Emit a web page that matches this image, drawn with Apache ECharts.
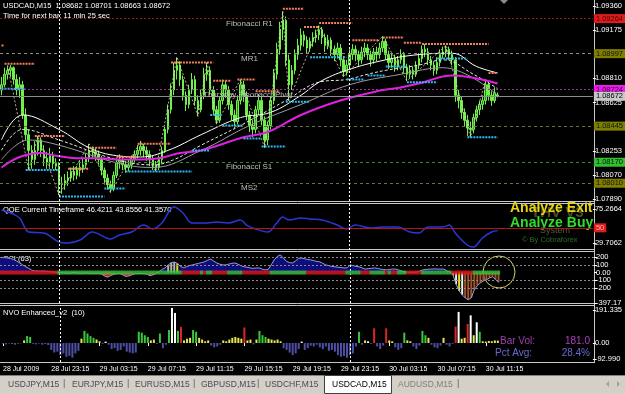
<!DOCTYPE html>
<html><head><meta charset="utf-8">
<script src="https://cdn.jsdelivr.net/npm/echarts@6/dist/echarts.min.js"></script>
<style>html,body{margin:0;padding:0;background:#000;}#c{width:625px;height:394px;}</style>
</head><body><div id="c"></div>
<script>
// ---------- DATA ----------
const symbolName = 'USDCAD,M15';
const timeTickLabels = ['28 Jul 2009','28 Jul 23:15','29 Jul 03:15','29 Jul 07:15','29 Jul 11:15','29 Jul 15:15','29 Jul 19:15','29 Jul 23:15','30 Jul 03:15','30 Jul 07:15','30 Jul 11:15'];
const barsPerTick = 16;
const totalSlots = 196;
const daySeparators = [19, 115];

// [open, close, low, high]
const candles = [
[1.0872,1.0876,1.0868,1.0882],[1.0876,1.0884,1.0874,1.0889],[1.0884,1.0887,1.0880,1.0890],[1.0887,1.0889,1.0882,1.0891],[1.0889,1.0880,1.0876,1.0890],
[1.0880,1.0872,1.0868,1.0884],[1.0872,1.0876,1.0866,1.0882],[1.0876,1.0853,1.0850,1.0879],[1.0853,1.0838,1.0834,1.0858],[1.0838,1.0826,1.0811,1.0842],
[1.0826,1.0819,1.0812,1.0830],[1.0819,1.0826,1.0815,1.0833],[1.0826,1.0834,1.0822,1.0837],[1.0834,1.0826,1.0821,1.0836],[1.0826,1.0820,1.0814,1.0830],
[1.0820,1.0817,1.0812,1.0825],[1.0817,1.0822,1.0813,1.0828],[1.0822,1.0816,1.0812,1.0825],[1.0816,1.0814,1.0811,1.0820],[1.0814,1.0800,1.0792,1.0817],
[1.0800,1.0801,1.0793,1.0806],[1.0801,1.0803,1.0796,1.0808],[1.0803,1.0805,1.0799,1.0810],[1.0805,1.0810,1.0802,1.0813],[1.0810,1.0807,1.0803,1.0814],
[1.0807,1.0811,1.0804,1.0814],[1.0811,1.0813,1.0806,1.0818],[1.0813,1.0815,1.0809,1.0820],[1.0815,1.0820,1.0812,1.0824],[1.0820,1.0826,1.0817,1.0831],
[1.0826,1.0825,1.0820,1.0829],[1.0825,1.0823,1.0818,1.0828],[1.0823,1.0819,1.0815,1.0826],[1.0819,1.0811,1.0807,1.0822],[1.0811,1.0805,1.0800,1.0813],
[1.0805,1.0800,1.0796,1.0808],[1.0800,1.0797,1.0794,1.0803],[1.0797,1.0807,1.0795,1.0810],[1.0807,1.0817,1.0805,1.0820],[1.0817,1.0819,1.0812,1.0823],
[1.0819,1.0815,1.0811,1.0822],[1.0815,1.0813,1.0809,1.0818],[1.0813,1.0815,1.0810,1.0819],[1.0815,1.0819,1.0812,1.0822],[1.0819,1.0823,1.0816,1.0826],
[1.0823,1.0826,1.0820,1.0830],[1.0826,1.0829,1.0822,1.0833],[1.0829,1.0826,1.0821,1.0831],[1.0826,1.0823,1.0818,1.0829],[1.0823,1.0819,1.0814,1.0826],
[1.0819,1.0815,1.0811,1.0822],[1.0815,1.0813,1.0810,1.0818],[1.0813,1.0819,1.0811,1.0822],[1.0819,1.0826,1.0816,1.0829],[1.0826,1.0842,1.0824,1.0845],
[1.0842,1.0857,1.0839,1.0861],[1.0857,1.0872,1.0854,1.0877],[1.0872,1.0887,1.0868,1.0893],[1.0887,1.0891,1.0880,1.0897],[1.0891,1.0880,1.0875,1.0894],
[1.0880,1.0868,1.0864,1.0883],[1.0868,1.0861,1.0856,1.0871],[1.0861,1.0872,1.0858,1.0876],[1.0872,1.0880,1.0869,1.0885],[1.0880,1.0864,1.0860,1.0883],
[1.0864,1.0857,1.0852,1.0868],[1.0857,1.0868,1.0855,1.0872],[1.0868,1.0884,1.0865,1.0889],[1.0884,1.0887,1.0879,1.0893],[1.0887,1.0872,1.0868,1.0890],
[1.0872,1.0857,1.0853,1.0875],[1.0857,1.0849,1.0846,1.0860],[1.0849,1.0864,1.0847,1.0867],[1.0864,1.0876,1.0861,1.0880],[1.0876,1.0872,1.0866,1.0879],
[1.0872,1.0861,1.0857,1.0875],[1.0861,1.0853,1.0849,1.0864],[1.0853,1.0848,1.0843,1.0857],[1.0848,1.0864,1.0846,1.0868],[1.0864,1.0876,1.0861,1.0880],
[1.0876,1.0868,1.0863,1.0879],[1.0868,1.0853,1.0849,1.0871],[1.0853,1.0845,1.0840,1.0856],[1.0845,1.0842,1.0836,1.0849],[1.0842,1.0857,1.0839,1.0860],
[1.0857,1.0864,1.0853,1.0869],[1.0864,1.0849,1.0845,1.0867],[1.0849,1.0834,1.0828,1.0852],[1.0834,1.0845,1.0830,1.0848],[1.0845,1.0864,1.0842,1.0867],
[1.0864,1.0884,1.0861,1.0888],[1.0884,1.0903,1.0880,1.0908],[1.0903,1.0918,1.0899,1.0924],[1.0918,1.0925,1.0910,1.0932],[1.0925,1.0895,1.0890,1.0928],
[1.0895,1.0876,1.0864,1.0899],[1.0876,1.0887,1.0872,1.0891],[1.0887,1.0899,1.0884,1.0903],[1.0899,1.0906,1.0895,1.0911],[1.0906,1.0914,1.0902,1.0919],
[1.0914,1.0910,1.0905,1.0917],[1.0910,1.0904,1.0900,1.0913],[1.0904,1.0909,1.0901,1.0912],[1.0909,1.0912,1.0905,1.0916],[1.0912,1.0914,1.0908,1.0918],
[1.0914,1.0918,1.0910,1.0921],[1.0918,1.0912,1.0907,1.0920],[1.0912,1.0906,1.0901,1.0915],[1.0906,1.0910,1.0903,1.0914],[1.0910,1.0903,1.0898,1.0912],
[1.0903,1.0899,1.0894,1.0906],[1.0899,1.0904,1.0896,1.0908],[1.0904,1.0895,1.0890,1.0907],[1.0895,1.0886,1.0882,1.0898],[1.0886,1.0891,1.0883,1.0895],
[1.0891,1.0899,1.0888,1.0903],[1.0899,1.0903,1.0895,1.0907],[1.0903,1.0899,1.0894,1.0906],[1.0899,1.0895,1.0890,1.0902],[1.0895,1.0901,1.0892,1.0905],
[1.0901,1.0904,1.0897,1.0908],[1.0904,1.0899,1.0895,1.0907],[1.0899,1.0895,1.0890,1.0902],[1.0895,1.0901,1.0892,1.0904],[1.0901,1.0899,1.0894,1.0905],
[1.0899,1.0904,1.0896,1.0908],[1.0904,1.0909,1.0901,1.0913],[1.0909,1.0899,1.0895,1.0911],[1.0899,1.0893,1.0888,1.0902],[1.0893,1.0896,1.0889,1.0900],
[1.0896,1.0891,1.0886,1.0899],[1.0891,1.0895,1.0887,1.0898],[1.0895,1.0899,1.0892,1.0903],[1.0899,1.0889,1.0885,1.0901],[1.0889,1.0884,1.0879,1.0892],
[1.0884,1.0887,1.0881,1.0891],[1.0887,1.0884,1.0880,1.0890],[1.0884,1.0891,1.0882,1.0894],[1.0891,1.0896,1.0888,1.0900],[1.0896,1.0903,1.0893,1.0906],
[1.0903,1.0901,1.0897,1.0907],[1.0901,1.0895,1.0891,1.0904],[1.0895,1.0891,1.0887,1.0898],[1.0891,1.0887,1.0883,1.0894],[1.0887,1.0893,1.0884,1.0897],
[1.0893,1.0899,1.0890,1.0903],[1.0899,1.0901,1.0896,1.0905],[1.0901,1.0903,1.0897,1.0906],[1.0903,1.0899,1.0895,1.0905],[1.0899,1.0895,1.0891,1.0902],
[1.0895,1.0868,1.0863,1.0897],[1.0868,1.0864,1.0858,1.0872],[1.0864,1.0855,1.0850,1.0867],[1.0855,1.0849,1.0844,1.0858],[1.0849,1.0843,1.0837,1.0853],
[1.0843,1.0842,1.0836,1.0848],[1.0842,1.0851,1.0839,1.0854],[1.0851,1.0857,1.0848,1.0860],[1.0857,1.0861,1.0853,1.0864],[1.0861,1.0864,1.0857,1.0868],
[1.0864,1.0876,1.0861,1.0880],[1.0876,1.0868,1.0864,1.0879],[1.0868,1.0864,1.0860,1.0871],[1.0864,1.0870,1.0862,1.0874],[1.08682,1.08672,1.08663,1.08701]
];

// moving averages: [barIndex, price]
const maFast = [[0,1.0834],[7,1.0853],[19,1.0842],[29,1.0828],[38,1.0822],[46,1.0821],[55,1.0826],[66,1.0838],[79,1.0851],[89,1.0855],[99,1.0868],[105,1.0878],[114,1.0887],[127,1.0895],[138,1.0899],[149,1.0900],[157,1.0890],[164,1.0885]];
const maMid = [[0,1.0826],[7,1.0842],[19,1.0834],[38,1.0819],[50,1.0815],[57,1.0819],[66,1.0830],[79,1.0845],[94,1.0864],[105,1.0878],[114,1.0880],[121,1.0884],[127,1.0887],[138,1.0891],[146,1.0895],[156,1.0884],[164,1.0873]];
const maSlow = [[0,1.0819],[9,1.0834],[19,1.0830],[39,1.0816],[50,1.0813],[66,1.0826],[82,1.0845],[99,1.0861],[115,1.0876],[132,1.0884],[146,1.0889],[164,1.0868]];
const maLong = [[0,1.0813],[6,1.0821],[13,1.0824],[18,1.0822],[26,1.0820],[33,1.0820],[39,1.0819],[46,1.0819],[52,1.0820],[59,1.0824],[66,1.0826],[80,1.0836],[88,1.0840],[99,1.0853],[112,1.0864],[124,1.0871],[132,1.0874],[138,1.0877],[149,1.0883],[164,1.0877]];
const zigzag = [[2,1.0891],[9,1.0811],[12,1.0837],[19,1.0792],[29,1.0831],[36,1.0794],[46,1.0833],[51,1.0810],[58,1.0897],[65,1.0852],[68,1.0893],[71,1.0846],[79,1.0880],[87,1.0828],[93,1.0932],[95,1.0864],[105,1.0921],[113,1.0882],[126,1.0913],[134,1.0879],[147,1.0906],[155,1.0836],[160,1.0880]];

// [fromBar, toBar, price]
const resistanceSegs = [[0,1,1.0906],[1,11,1.0892],[11,21,1.0837],[22,29,1.0812],[29,38,1.0828],[38,45,1.0821],[45,56,1.0831],[56,70,1.0893],[70,76,1.0879],[78,84,1.0880],[84,92,1.0871],[93,100,1.0934],[100,105,1.0920],[105,116,1.0923],[116,125,1.0910],[126,133,1.0912],[133,139,1.0908],[139,161,1.0907],[161,164,1.0885]];
const supportSegs = [[0,8,1.0873],[8,19,1.0811],[19,34,1.0791],[34,41,1.0797],[41,63,1.0810],[63,69,1.0826],[69,73,1.0853],[73,80,1.0845],[80,86,1.0835],[86,94,1.0829],[94,102,1.0863],[102,114,1.0897],[114,120,1.0880],[121,127,1.0883],[127,134,1.0890],[134,144,1.0878],[144,154,1.0896],[154,164,1.0836]];

const pivotPrices = [1.09264, 1.08997, 1.08724, 1.08672, 1.08445, 1.08170, 1.08010];
const pivotNames  = ['Fibonacci R1', 'MR1', 'Thursday Fibonacci Pivot', '', '', 'Fibonacci S1', 'MS2'];
const priceTicks = [1.0936, 1.09175, 1.0881, 1.08625, 1.08253, 1.0807, 1.0789];

// QQE
const qqeLine = [[0,73.9],[3,69.9],[6,63.2],[9,44.4],[14,43.1],[19,31.1],[22,29.7],[26,33.7],[30,44.4],[36,35.1],[39,40.4],[43,44.4],[47,53.8],[50,48.5],[53,56.5],[57,77.9],[60,69.9],[63,56.5],[68,56.5],[71,57.8],[75,56.5],[79,60.5],[81,53.8],[84,48.5],[88,44.4],[91,56.5],[93,64.5],[95,60.5],[99,63.2],[102,61.9],[106,60.5],[111,53.8],[114,48.5],[117,53.8],[122,49.8],[126,51.2],[131,51.2],[135,44.4],[138,43.1],[141,51.2],[146,51.2],[148,53.8],[150,43.1],[154,27.0],[156,24.3],[159,36.4],[162,44.4],[164,46.4]];
const qqeValues = ['46.4211','43.8556','41.3570'];
const qqeLevel = 50;
const qqeTicks = [75.2664, 29.7062];

// CCI(63)
const cci = [200,195,190,185,170,150,125,100,75,55,30,20,20,18,20,15,10,8,5,
2,-5,-8,-10,-5,0,-5,-10,-8,-5,-10,-12,-10,-8,
-20,-45,-60,-40,-25,-15,-10,-30,-50,-45,-30,-15,-12,-10,-15,-20,-40,-30,
-10,10,40,60,100,130,137,120,80,65,75,90,100,110,120,130,140,160,175,
150,125,110,100,100,110,120,125,110,90,75,70,60,55,60,60,45,35,40,100,165,
210,230,190,145,130,125,150,185,190,180,170,165,155,145,140,120,100,90,80,
75,70,65,60,60,100,90,80,75,60,45,50,55,60,55,45,40,35,40,45,45,35,20,8,
5,3,5,5,20,35,40,45,45,48,45,45,45,20,5,-35,
-150,-240,-290,-330,-355,-330,-225,-170,-135,-110,-95,-70,-55,-90,-125];
// n = blue fill, r = red fill, . = none, g/y/w/s = histogram colours
const cciKind = 'n'.repeat(19) + '.'.repeat(14) + 'rrrrr' + '..' + 'rrrr' + '.....' + 'rr' + '.' + 'nnn' + 'ggg' + 'y' + 'n'.repeat(90) + 'wwyw' + 's'.repeat(12);
// zero-line trend strip: [fromBar, toBar, state]
const cciStrip = [[0,18,'r'],[19,59,'g'],[60,65,'r'],[66,66,'g'],[67,67,'r'],[68,69,'g'],[70,74,'r'],[75,79,'g'],[80,88,'r'],[89,100,'g'],[101,113,'r'],[114,118,'g'],[119,121,'r'],[122,126,'g'],[127,127,'r'],[128,128,'g'],[129,130,'r'],[131,133,'g'],[134,138,'r'],[139,148,'g'],[149,155,'r'],[156,164,'g']];
const cciLevels = [200, 100, -100, -200];
const cciTicks = [268.021, 200, 100, 0, -100, -200, -397.17];
const cciTickText = ['268.021','200','100','0.00','-100','-200','-397.17'];

// NVO Enhanced_v2 (10)
const nvo = [-5,-8,-3,-6,-10,-4,-2,15,40,35,
-5,-8,-3,-10,-6,-12,-40,-55,-50,-70,
-60,-80,-75,-85,-60,-45,25,70,55,40,
30,20,10,-5,8,-10,-35,-30,-45,-40,
-20,-50,-55,-60,-55,65,60,45,35,15,
20,-5,55,-30,-10,75,203,174,70,93,
15,25,30,75,65,30,20,10,15,-15,
-25,-20,-10,15,10,20,30,35,30,25,
90,15,20,-8,20,70,45,35,25,20,
15,20,10,-30,-40,-55,-70,-60,-35,8,
-40,-30,-15,-20,-10,-25,-35,-20,-45,-40,
-50,-70,-80,-75,-85,-70,-60,-20,65,-10,
15,10,-5,85,-20,-35,-15,85,15,10,
-25,-40,-30,60,15,10,-20,-35,-15,70,
45,30,-10,-25,-30,-15,30,-10,-20,-5,
95,180,25,30,110,160,45,120,65,10,
8,12,10,15,14];
const nvoKind = 'bbbbbbbygg'+'bbbbbbbbbb'+'bbbbbbyggg'+'gyybwbbbbb'+'bbbbbggggy'+'ybgbbgwwgr'+'yyyggyyyyb'+'bbbyyyyyyy'+'ryybygggyy'+'yyybbbbbbw'+'bbbbbbbbbb'+'bbbbbbbbgb'+'ywbrbbbryy'+'bbbgyybbbg'+'gybbbbybbb'+'rwyyrwywgy'+'yyyyy';
const nvoTicks = [191.335, 0, -92.99];
const nvoTickText = ['191.335','0.00','-92.990'];
const barVol = '181.0', pctAvg = '28.4%';

const tabs = ['USDJPY,M15','EURJPY,M15','EURUSD,M15','GBPUSD,M15','USDCHF,M15','USDCAD,M15','AUDUSD,M15'];
const activeTab = 'USDCAD,M15';

// ---------- CHART ----------
const FONT = 'Liberation Sans';
const cats = Array.from({length: totalSlots}, (_, i) => String(i));
const chart = echarts.init(document.getElementById('c'), null, {renderer: 'canvas'});

const grids = [
  {left: 0, top: 0, width: 594, height: 201},
  {left: 0, top: 203, width: 594, height: 47},
  {left: 0, top: 252, width: 594, height: 51},
  {left: 0, top: 305, width: 594, height: 57},
  {left: 0, top: 252, width: 594, height: 51}
];
const tickShown = (idx) => idx % barsPerTick === 0 && idx / barsPerTick < timeTickLabels.length;
const xAxes = grids.map((g, gi) => ({
  type: 'category', gridIndex: gi, data: cats, boundaryGap: true,
  axisLine: {show: false},
  axisTick: gi === 3 ? {show: true, interval: tickShown, alignWithLabel: true, length: 3, lineStyle: {color: '#fff'}} : {show: false},
  axisLabel: gi === 3 ? {show: true, interval: tickShown, formatter: (v, i) => timeTickLabels[Math.round(Number(v) / barsPerTick)] || '', color: '#fff', fontSize: 7, fontFamily: FONT, align: 'left', margin: 4} : {show: false},
  splitLine: {show: false}
}));
function lookupText(vals, texts) {
  return (v) => { for (let k = 0; k < vals.length; k++) if (Math.abs(vals[k] - v) < 1e-6) return texts[k]; return ''; };
}
const yBase = (gi, min, max, ticks, fmt) => ({
  type: 'value', gridIndex: gi, position: 'right', min, max, scale: true,
  splitLine: {show: false}, axisLine: {show: false},
  axisTick: {show: true, length: 3, customValues: ticks, lineStyle: {color: '#fff'}},
  axisLabel: {show: true, customValues: ticks, formatter: fmt, color: '#fff', fontSize: 7.5, fontFamily: FONT, margin: 2}
});
const yAxes = [
  yBase(0, 1.078748, 1.094057, priceTicks, (v) => v.toFixed(5)),
  yBase(1, 20.33, 83.31, qqeTicks, (v) => v.toFixed(4)),
  yBase(2, -397.17, 268.021, cciTicks, lookupText(cciTicks, cciTickText)),
  yBase(3, -110, 220, nvoTicks, lookupText(nvoTicks, nvoTickText)),
  {type: 'value', gridIndex: 4, min: -397.17, max: 268.021, show: false}
];

const daySepLines = daySeparators.map((d) => ({xAxis: String(d), lineStyle: {color: '#ffffff', type: [2, 2], width: 1}, label: {show: false}}));

// pivot level styling
const pivotLine = ['#8e1c1c', '#8c8c8c', '#9a3a9a', '#8c8c8c', '#6e6e46', '#2f8f2f', '#6e6e46'];
const pivotType = [[2,2], [3,3], [2,2], 'solid', [3,3], [3,3], [3,3]];
const pivotBox  = ['#e01c1c', '#808000', '#f018f0', '#c8c8c8', '#808000', '#30c030', '#808000'];
const pivotText = ['#400000', '#111', '#111', '#000', '#111', '#111', '#111'];
const pivotNameX = [225, 240, 202, 0, 0, 225, 240];

const series = [];
const mlSeries = (xi, yi, items, z) => ({type: 'line', xAxisIndex: xi, yAxisIndex: yi, data: [], z, silent: true,
  markLine: {symbol: ['none', 'none'], precision: 6, silent: true, animation: false, data: items}});
const levelItems = [], levelNameItems = [];
pivotPrices.forEach((p, k) => {
  levelItems.push({yAxis: p, lineStyle: {color: pivotLine[k], type: pivotType[k], width: 1},
    label: {show: true, position: 'end', distance: 1, formatter: p.toFixed(5), backgroundColor: pivotBox[k], color: pivotText[k], fontSize: 7.5, fontFamily: FONT, padding: [1, 2, 0, 2]}});
  if (pivotNames[k]) levelNameItems.push({yAxis: p, lineStyle: {color: 'rgba(0,0,0,0)', width: 0},
    label: {show: true, position: 'insideStartBottom', distance: 1, formatter: pivotNames[k], color: '#bdbdbd', fontSize: 8, fontFamily: FONT, padding: [0, 0, 0, pivotNameX[k]]}});
});
series.push(mlSeries(0, 0, levelItems, 1));
series.push(mlSeries(0, 0, levelNameItems, 1));
series.push(mlSeries(0, 0, daySepLines, 1));

series.push({type: 'candlestick', xAxisIndex: 0, yAxisIndex: 0, data: candles, barWidth: 2, z: 2,
  itemStyle: {color: '#2a8a2a', color0: '#70f048', borderColor: '#70f048', borderColor0: '#70f048', borderWidth: 1}});
const lineS = (data, color, width, type, smooth) => ({type: 'line', xAxisIndex: 0, yAxisIndex: 0, data, symbol: 'none', smooth, z: 3, silent: true,
  lineStyle: {color, width, type}});
series.push(lineS(maSlow, '#9a9a9a', 1, 'solid', 0.4));
series.push(lineS(maMid, '#e6e6e6', 1, [3, 2], 0.4));
series.push(lineS(maFast, '#ffffff', 1, 'solid', 0.4));
series.push({...lineS(zigzag, '#dcdcb4', 1, [2, 2], false), lineStyle: {color: '#dcdcb4', width: 1, type: [2, 2], opacity: 0.8}});
series.push(lineS(maLong, '#e020e0', 2, 'solid', 0.4));
resistanceSegs.forEach(([s, e, p]) => series.push({...lineS([[s, p], [e, p]], '#f7805f', 2, [2, 1], false), z: 4}));
supportSegs.forEach(([s, e, p]) => series.push({...lineS([[s, p], [e, p]], '#2fb9f2', 2, [2, 1], false), z: 4}));

// QQE
series.push({type: 'line', xAxisIndex: 1, yAxisIndex: 1, data: qqeLine, symbol: 'none', smooth: 0.35, silent: true,
  lineStyle: {color: '#2a36d6', width: 1.5}});
series.push(mlSeries(1, 1, [{yAxis: qqeLevel, lineStyle: {color: '#b81414', type: 'solid', width: 1},
  label: {show: true, position: 'end', distance: 1, formatter: String(qqeLevel), backgroundColor: '#e01c1c', color: '#ffb0b0', fontSize: 7.5, fontFamily: FONT, padding: [1, 2, 0, 2]}}], 1));
series.push(mlSeries(1, 1, daySepLines, 1));

// CCI
const cciColors = {n: '#0e0e80', r: '#e01c1c', g: '#b4b4b4', y: '#e6e020', w: '#f0f0f0', s: '#a0522d'};
series.push({type: 'bar', xAxisIndex: 2, yAxisIndex: 2, barWidth: '100%', silent: true, z: 2,
  data: cci.map((v, i) => ('nr'.includes(cciKind[i]) ? {value: v, itemStyle: {color: cciColors[cciKind[i]]}} : '-'))});
series.push(mlSeries(2, 2, cciLevels.map((l) => ({yAxis: l, lineStyle: {color: '#8a8a8a', type: [2, 2], width: 1}, label: {show: false}})), 1));
series.push(mlSeries(2, 2, daySepLines, 1));
series.push({type: 'bar', xAxisIndex: 4, yAxisIndex: 4, barWidth: 2, silent: true, z: 3,
  data: cci.map((v, i) => ('gyws'.includes(cciKind[i]) ? {value: v, itemStyle: {color: cciColors[cciKind[i]]}} : '-'))});
series.push({type: 'line', xAxisIndex: 2, yAxisIndex: 2, data: cci, symbol: 'none', silent: true, z: 4,
  lineStyle: {color: '#9c9ce0', width: 1}});
const stripData = [];
cciStrip.forEach(([s, e, st]) => { for (let i = s; i <= e; i++) stripData.push({value: [i, 0], itemStyle: {color: st === 'r' ? '#e81818' : '#3cc83c'}}); });
series.push({type: 'scatter', xAxisIndex: 2, yAxisIndex: 2, data: stripData, symbol: 'rect', symbolSize: [3.2, 4], silent: true, z: 5});

// NVO
const nvoColors = {b: '#4e4ea6', g: '#3cc83c', y: '#e6e64a', r: '#e02424', w: '#ffffff'};
series.push({type: 'bar', xAxisIndex: 3, yAxisIndex: 3, barWidth: 2, silent: true,
  data: nvo.map((v, i) => ({value: v, itemStyle: {color: nvoColors[nvoKind[i]]}}))});
series.push(mlSeries(3, 3, daySepLines, 1));

// ---------- GRAPHICS (frames, texts, tab bar) ----------
const last = candles[candles.length - 1];
const f = (v) => v.toFixed(5);
const txt = (x, y, text, fill, size, extra) => ({type: 'text', x, y, silent: true, style: Object.assign({text, fill, font: `${size}px "${FONT}"`, textVerticalAlign: 'middle'}, extra || {})});
const hline = (x1, x2, y, stroke) => ({type: 'line', silent: true, shape: {x1, y1: y, x2, y2: y}, style: {stroke, lineWidth: 1}});
const graphics = [
  hline(0, 595, 201.5, '#c8c8c8'), hline(0, 595, 203.5, '#c8c8c8'), hline(0, 595, 249.5, '#c8c8c8'),
  hline(0, 595, 251.5, '#c8c8c8'), hline(0, 595, 303.5, '#c8c8c8'), hline(0, 595, 305.5, '#c8c8c8'), hline(0, 595, 362.5, '#c8c8c8'),
  {type: 'line', silent: true, shape: {x1: 594.5, y1: 0, x2: 594.5, y2: 363}, style: {stroke: '#c8c8c8', lineWidth: 1}},
  {type: 'polygon', silent: true, shape: {points: [[500, 0], [508, 0], [504, 4]]}, style: {fill: '#8a8a8a'}},
  txt(3, 6, `${symbolName}  ${f(last[0])} ${f(last[3])} ${f(last[2])} ${f(last[1])}`, '#ffffff', 7.5),
  txt(3, 16, 'Time for next bar: 11 min 25 sec', '#ffffff', 7.5),
  txt(3, 210, 'QQE Current Timeframe ' + qqeValues.join(' '), '#ffffff', 7.5),
  txt(3, 259, 'CCI (63)', '#ffffff', 7.5),
  txt(3, 313, 'NVO Enhanced_v2  (10)', '#ffffff', 7.5),
  {type: 'text', x: 531, y: 213, silent: true, style: {text: 'THV V3', fill: '#4e4e22', font: `bold 15px "${FONT}"`, textVerticalAlign: 'middle'}},
  {type: 'text', x: 510, y: 208, silent: true, style: {text: 'Analyze Exit', fill: '#e4d414', font: `bold 14px "${FONT}"`, textVerticalAlign: 'middle'}},
  {type: 'text', x: 510, y: 223, silent: true, style: {text: 'Analyze Buy', fill: '#2ee02e', font: `bold 14px "${FONT}"`, textVerticalAlign: 'middle'}},
  txt(540, 231, 'System', '#5a5a3a', 9),
  txt(522, 240, '© By Cobraforex', '#2e6e2e', 7.5),
  {type: 'circle', silent: true, shape: {cx: 499, cy: 272, r: 16}, style: {fill: 'none', stroke: '#d8d060', lineWidth: 1}},
  txt(500, 341, 'Bar Vol:', '#a040b0', 10),
  txt(590, 341, barVol, '#b040c0', 10, {textAlign: 'right'}),
  txt(495, 353, 'Pct Avg:', '#6a6ad0', 10),
  txt(590, 353, pctAvg, '#6a6ad0', 10, {textAlign: 'right'}),
  {type: 'rect', silent: true, shape: {x: 0, y: 375, width: 625, height: 19}, style: {fill: '#d4d0c8'}},
  hline(0, 625, 375.5, '#808080')
];
// tab strip
const tabX = [8, 72, 135, 201, 265, 332, 398];
const sepX = [63, 127, 193, 257, 457];
tabs.forEach((t, k) => {
  if (t === activeTab) {
    graphics.push({type: 'rect', silent: true, shape: {x: 324.5, y: 375.5, width: 67, height: 18}, style: {fill: '#ffffff', stroke: '#404040', lineWidth: 1}});
  }
  graphics.push(txt(tabX[k], 385, t, t === activeTab ? '#000000' : (k > tabs.indexOf(activeTab) ? '#808080' : '#4a4a5a'), 8.5));
});
sepX.forEach((x) => graphics.push(txt(x, 384, '|', '#5a5a5a', 9)));
graphics.push({type: 'polygon', silent: true, shape: {points: [[606, 384], [609, 381], [609, 387]]}, style: {fill: '#a0a0a0'}});
graphics.push({type: 'polygon', silent: true, shape: {points: [[620, 384], [617, 381], [617, 387]]}, style: {fill: '#a0a0a0'}});

chart.setOption({
  backgroundColor: '#000000',
  animation: false,
  grid: grids,
  xAxis: xAxes,
  yAxis: yAxes,
  series,
  graphic: graphics
});
</script></body></html>
